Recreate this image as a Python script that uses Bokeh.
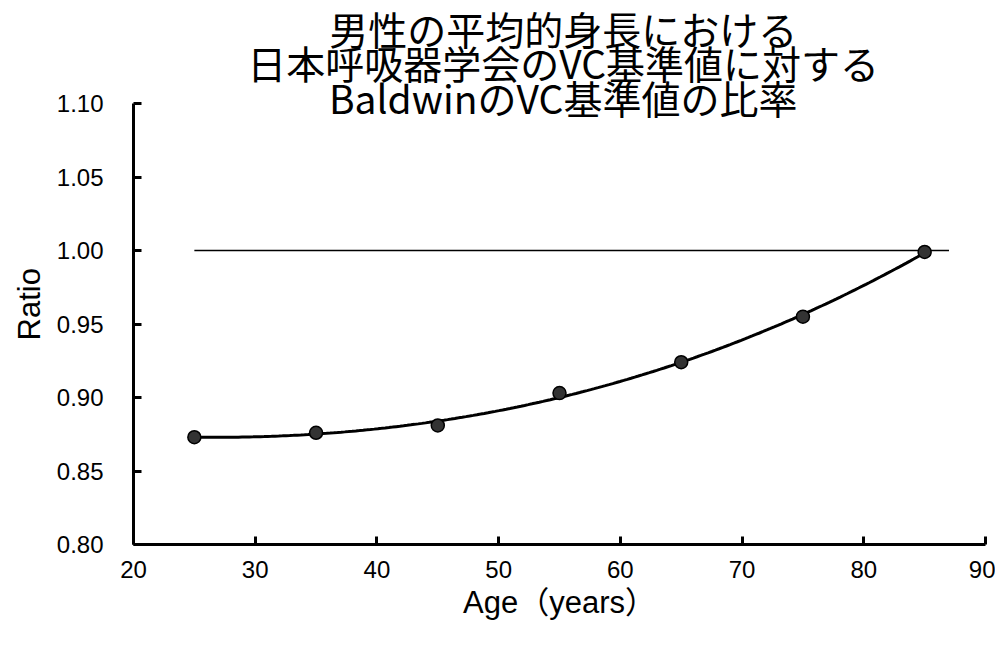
import numpy as np
from bokeh.plotting import figure
from bokeh.models import Range1d, Label, FixedTicker, CustomJSTickFormatter, Title
from bokeh.embed import file_html
from bokeh.resources import INLINE

ages = [25, 35, 45, 55, 65, 75, 85]
ratio = [0.873, 0.876, 0.881, 0.903, 0.924, 0.955, 0.999]
x_ticks = [20, 30, 40, 50, 60, 70, 80, 90]
y_ticks = [0.80, 0.85, 0.90, 0.95, 1.00, 1.05, 1.10]
ref_x = [25, 87]
ref_y = [1.0, 1.0]
title_lines = ["男性の平均的身長における", "日本呼吸器学会のVC基準値に対する", "BaldwinのVC基準値の比率"]

p = figure(width=995, height=637, output_backend="svg", toolbar_location=None,
           x_range=Range1d(20, 90), y_range=Range1d(0.80, 1.1633),
           min_border_left=133, min_border_top=10, min_border_right=10, min_border_bottom=93)
p.outline_line_color = None
p.grid.visible = False
p.background_fill_color = "white"
p.border_fill_color = "white"

for ax in (p.xaxis[0], p.yaxis[0]):
    ax.axis_line_width = 3
    ax.axis_line_color = "black"
    ax.major_tick_line_width = 3
    ax.major_tick_in = 8
    ax.major_tick_out = 0
    ax.minor_tick_line_color = None
    ax.major_label_text_font = "Liberation Sans"
    ax.major_label_text_font_size = "24px"
    ax.major_label_text_color = "black"
    ax.axis_label_text_font = "'Liberation Sans', 'Noto Sans CJK JP'"
    ax.axis_label_text_font_style = "normal"
    ax.axis_label_text_color = "black"
    ax.axis_label_text_font_size = "31px"

p.yaxis[0].bounds = (0.80, 1.10)
p.xaxis.ticker = FixedTicker(ticks=x_ticks)
p.yaxis.ticker = FixedTicker(ticks=y_ticks)
p.yaxis.formatter = CustomJSTickFormatter(code="return tick.toFixed(2);")
p.xaxis.major_label_standoff = 16
p.yaxis.major_label_standoff = 30
p.xaxis.axis_label = "Age（years）"
p.xaxis.axis_label_standoff = 4

# y axis title, placed along the 0.80-1.10 span of the axis
p.add_layout(Title(text="Ratio", align="left", offset=204, standoff=14,
                   text_font="Liberation Sans", text_font_size="31px",
                   text_font_style="normal", text_color="black"), "left")

# reference line
p.line(ref_x, ref_y, line_color="black", line_width=1.5)

# trend line (polynomial fit of the data)
coef = np.polyfit(ages, ratio, 3)
xs = np.linspace(min(ages), max(ages), 200)
p.line(xs, np.polyval(coef, xs), line_color="black", line_width=3)

p.scatter(ages, ratio, size=13, fill_color="#333333", line_color="black", line_width=1.5)

title_y = [1.1517, 1.128, 1.1045]
for t, ty in zip(title_lines, title_y):
    p.add_layout(Label(x=55.3, y=ty, text=t, text_align="center", text_baseline="middle",
                       text_font="Noto Sans CJK JP", text_font_size="39px", text_color="black"))

open("out.html", "w").write(file_html(p, INLINE))
